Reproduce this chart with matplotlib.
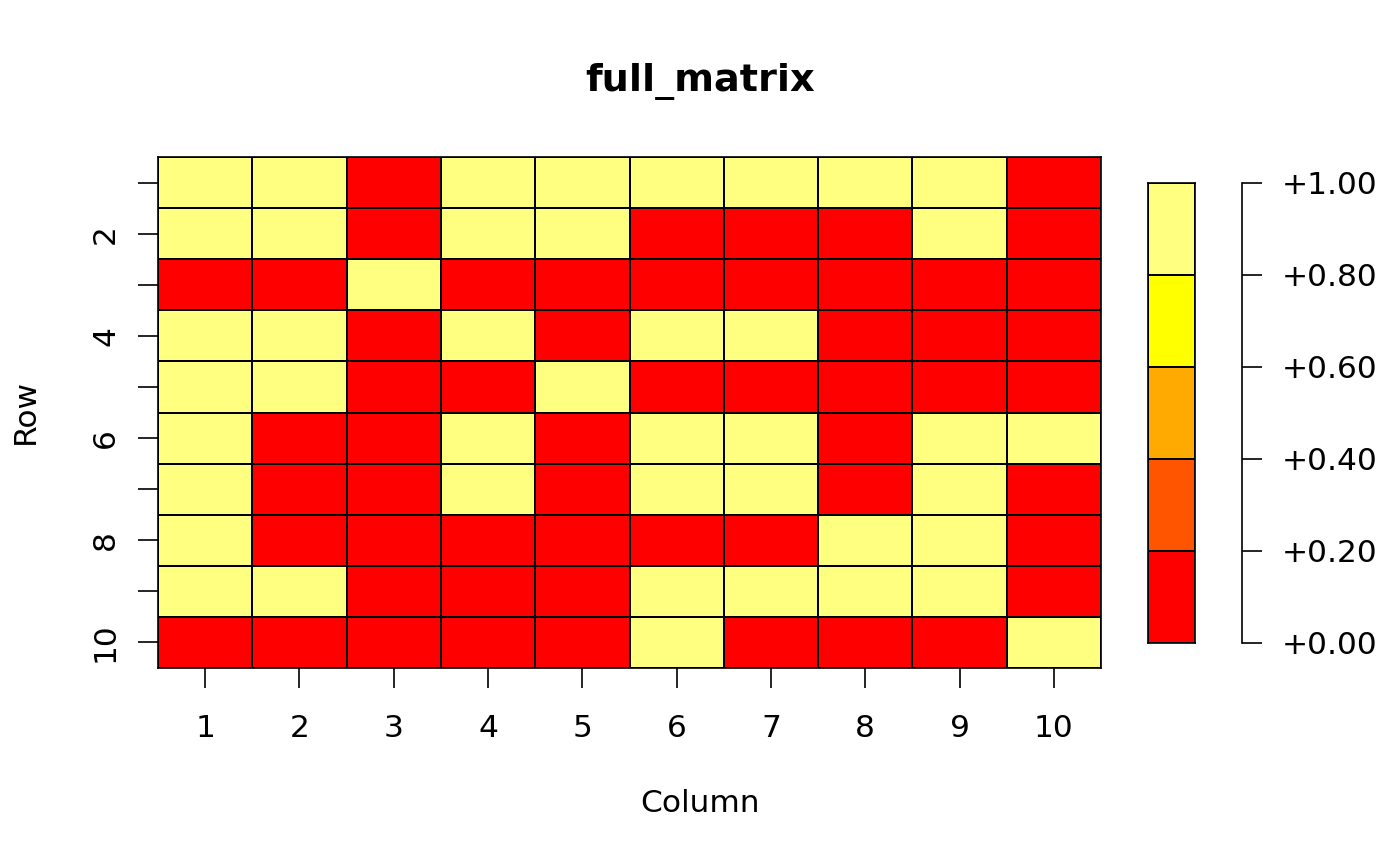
import numpy as np
import matplotlib
matplotlib.use('Agg')
import matplotlib.pyplot as plt
from matplotlib.colors import ListedColormap, Normalize

# matrix values (1 = light yellow, 0 = red), row 1 at the top
full_matrix = np.array([
    [1, 1, 0, 1, 1, 1, 1, 1, 1, 0],
    [1, 1, 0, 1, 1, 0, 0, 0, 1, 0],
    [0, 0, 1, 0, 0, 0, 0, 0, 0, 0],
    [1, 1, 0, 1, 0, 1, 1, 0, 0, 0],
    [1, 1, 0, 0, 1, 0, 0, 0, 0, 0],
    [1, 0, 0, 1, 0, 1, 1, 0, 1, 1],
    [1, 0, 0, 1, 0, 1, 1, 0, 1, 0],
    [1, 0, 0, 0, 0, 0, 0, 1, 1, 0],
    [1, 1, 0, 0, 0, 1, 1, 1, 1, 0],
    [0, 0, 0, 0, 0, 1, 0, 0, 0, 1],
])
row_ids = list(range(1, 11))
col_ids = list(range(1, 11))
heat_cols = ['#FF0000', '#FF5500', '#FFAA00', '#FFFF00', '#FFFF80']  # heat.colors(5)
key_breaks = [0.0, 0.2, 0.4, 0.6, 0.8, 1.0]

W, H = 1400, 865
fs = 22.5
tick_len = 14.4
lw = 1.2

def box(x0, y0, x1, y1):
    # pixel box -> figure fraction [left, bottom, width, height]
    return [x0 / W, 1 - y1 / H, (x1 - x0) / W, (y1 - y0) / H]

plt.rcParams['font.family'] = ['DejaVu Sans']
fig = plt.figure(figsize=(14, 8.65), dpi=100)

cmap = ListedColormap(heat_cols)
norm = Normalize(vmin=0, vmax=1)

# main grid
ax = fig.add_axes(box(158, 157, 1101, 668))
xe = np.arange(0.5, len(col_ids) + 1)
ye = np.arange(0.5, len(row_ids) + 1)
ax.pcolormesh(xe, ye, full_matrix, cmap=cmap, norm=norm,
              edgecolors='black', linewidth=lw)
ax.set_xlim(0.5, 10.5)
ax.set_ylim(10.5, 0.5)
ax.set_xticks(col_ids)
ax.set_xticklabels([str(c) for c in col_ids], fontsize=fs)
ax.set_yticks(row_ids)
ax.set_yticklabels([str(r) if r % 2 == 0 else '' for r in row_ids],
                   fontsize=fs, rotation=90, va='center')
ax.tick_params(axis='x', direction='out', length=tick_len, width=lw, pad=19)
ax.tick_params(axis='y', direction='out', length=tick_len, width=lw, pad=13)
for s in ax.spines.values():
    s.set_linewidth(lw)

# colour key
kax = fig.add_axes(box(1148, 183, 1195, 643))
kax.pcolormesh([0, 1], key_breaks, np.array(key_breaks[:-1]).reshape(-1, 1) + 0.1,
               cmap=cmap, norm=norm, edgecolors='black', linewidth=lw)
kax.set_xlim(0, 1)
kax.set_ylim(0, 1)
kax.set_xticks([])
kax.set_yticks([])
for s in kax.spines.values():
    s.set_linewidth(lw)

# key axis
lax = fig.add_axes(box(1232, 183, 1242, 643))
lax.set_ylim(0, 1)
lax.set_xticks([])
for side in ['left', 'top', 'bottom']:
    lax.spines[side].set_visible(False)
lax.spines['right'].set_linewidth(lw)
lax.patch.set_visible(False)
lax.yaxis.tick_right()
lax.set_yticks(key_breaks)
lax.set_yticklabels(['+%.2f' % b for b in key_breaks], fontsize=fs)
lax.tick_params(axis='y', direction='out', length=tick_len, width=lw, pad=14)

fig.text(0.5, 1 - 81 / H, 'full_matrix', fontsize=27.5, fontweight='bold',
         ha='center', va='center')
fig.text(0.5, 1 - 804 / H, 'Column', fontsize=fs, ha='center', va='center')
fig.text(25 / W, 1 - 412 / H, 'Row', fontsize=fs, ha='center', va='center',
         rotation=90)

fig.savefig('out.png', dpi=100)
